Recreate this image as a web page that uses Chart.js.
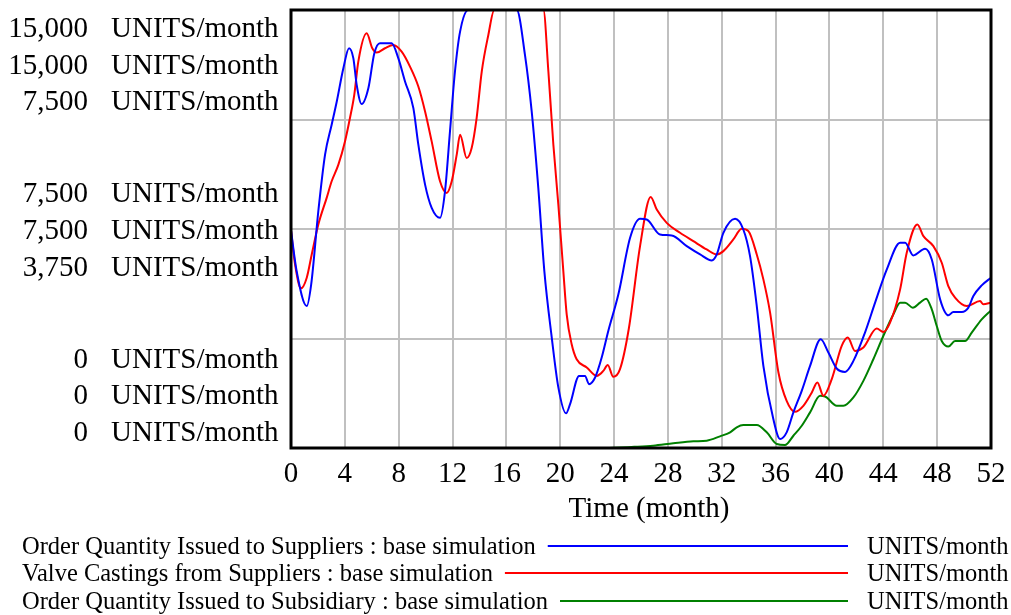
<!DOCTYPE html>
<html>
<head>
<meta charset="utf-8">
<script src="https://cdn.jsdelivr.net/npm/chart.js@4.4.0/dist/chart.umd.min.js"></script>
<style>
  html, body { margin: 0; padding: 0; background: #fff; }
  canvas { display: block; }
</style>
</head>
<body>
<canvas id="simChart" width="1011" height="615"></canvas>
<script>
// Time axis (months) and grid ticks
var monthTicks = [0, 4, 8, 12, 16, 20, 24, 28, 32, 36, 40, 44, 48, 52];
var unitTicks = [0, 3750, 7500, 11250, 15000];

// Scale tops for each series, in legend order (blue, red, green)
var seriesMax = [15000, 15000, 7500];
var seriesNames = [
  'Order Quantity Issued to Suppliers : base simulation',
  'Valve Castings from Suppliers : base simulation',
  'Order Quantity Issued to Subsidiary : base simulation'
];
var seriesUnits = 'UNITS/month';

// Order Quantity Issued to Suppliers
var supplierOrderMonths = [0, 0.42, 1.17, 1.5, 2.03, 2.53, 3.02, 3.4, 3.89, 4.31, 4.63, 4.88, 5.25, 5.75, 6.19, 6.61,
  7.48, 7.97, 8.47, 9.09, 9.46, 9.96, 10.45, 11.07, 11.44, 11.81, 12.18, 12.56, 13.17, 16.77, 17.38, 17.88,
  18.37, 18.82, 19.37, 19.86, 20.43, 20.73, 21.4, 21.84, 22.14, 22.59, 23.08, 23.57, 24.32, 25.19, 25.93,
  26.42, 27.41, 28.28, 29.4, 30.39, 31.26, 31.63, 32.12, 32.99, 33.6, 34.1, 34.6, 35.09, 35.83, 36.33, 36.82,
  37.32, 37.94, 38.56, 39.35, 39.92, 40.54, 41.16, 41.78, 42.64, 43.39, 44.26, 45.25, 45.62, 46.23, 47.1,
  47.6, 48.22, 48.83, 49.2, 49.83, 50.32, 50.69, 51.31, 52];
var supplierOrderValues = [7450, 6058, 4862, 5604, 8109, 10046, 11071, 11868, 13008, 13691, 13350, 12438, 11778, 12325, 13520, 13862,
  13862, 13350, 12552, 11641, 10387, 9021, 8224, 7883, 8792, 10842, 12893, 14260, 15000, 15000, 13462, 11526,
  8906, 6058, 3783, 2074, 1186, 1503, 2470, 2470, 2187, 2415, 3099, 4008, 5262, 7198, 7848,
  7825, 7312, 7278, 6913, 6629, 6424, 6629, 7370, 7848, 7483, 6571, 4862, 2812, 991, 308, 536,
  1220, 1958, 2812, 3725, 3270, 2723, 2607, 2983, 3953, 4978, 6116, 7029, 7029, 6595, 6823,
  6458, 5091, 4545, 4659, 4659, 4808, 5204, 5570, 5833];

// Valve Castings from Suppliers
var castingMonths = [0, 0.3, 0.74, 1.17, 1.54, 2.03, 2.65, 3.02, 3.52, 4.01, 4.38, 4.7, 5.0, 5.62, 6.04, 6.37, 6.98,
  7.6, 8.22, 8.84, 9.46, 9.96, 10.45, 11.07, 11.57, 11.94, 12.31, 12.56, 13.05, 13.42, 13.79, 14.17, 14.66,
  15.1, 18.75, 19.12, 19.49, 19.86, 20.23, 20.48, 20.85, 21.22, 21.97, 22.71, 23.2, 23.53, 23.94, 24.44,
  25.1, 25.93, 26.72, 27.17, 27.91, 28.9, 29.89, 30.88, 31.63, 32.12, 32.86, 33.48, 33.98, 34.6, 35.09,
  35.59, 36.21, 36.82, 37.44, 38.06, 38.69, 39.1, 39.55, 40.17, 40.91, 41.36, 41.9, 42.52, 43.51, 44.0,
  44.5, 45.25, 45.74, 46.53, 46.98, 47.72, 48.34, 48.83, 49.33, 50.2, 51.19, 51.43, 52];
var castingValues = [7450, 6287, 5467, 5833, 6629, 7654, 8566, 9134, 9704, 10500, 11300, 12096, 13234, 14204, 13691, 13542, 13691,
  13804, 13576, 13063, 12380, 11526, 10500, 9134, 8737, 9134, 10046, 10729, 9933, 10275, 11300, 12893, 14146,
  15000, 15000, 12893, 10387, 8337, 6058, 4579, 3554, 3041, 2757, 2470, 2641, 2846, 2436, 2699,
  4100, 6913, 8600, 8167, 7711, 7370, 7083, 6800, 6629, 6742, 7142, 7507, 7425, 6629, 5775,
  4637, 2587, 1616, 1240, 1445, 1903, 2245, 1787, 2358, 3496, 3783, 3325, 3441, 4090, 3974,
  4295, 5433, 6687, 7654, 7254, 6913, 6345, 5546, 5149, 4862, 5033, 4920, 4979];

// Order Quantity Issued to Subsidiary
var subsidiaryMonths = [0, 23.3, 25.5, 26.9, 28.4, 29.89, 30.88, 31.87, 32.62, 33.11, 33.6, 34.6, 35.34, 36.08, 36.7,
  37.32, 37.94, 38.56, 39.3, 39.67, 40.54, 41.03, 41.78, 42.52, 43.26, 44, 44.75, 45.25, 45.62, 46.19,
  46.73, 47.18, 47.6, 47.97, 48.34, 48.83, 49.33, 50.07, 50.57, 51.31, 52];
var subsidiaryValues = [0, 0, 20, 39, 80, 114, 125, 200, 268, 354, 393, 393, 268, 68, 51,
  210, 381, 610, 893, 883, 723, 723, 866, 1150, 1520, 1918, 2289, 2489, 2489, 2403,
  2489, 2557, 2374, 2089, 1833, 1737, 1833, 1833, 1976, 2203, 2357];

var FONT = "'Liberation Serif', 'Times New Roman', serif";

function toPoints(xs, ys) {
  return xs.map(function(x, i) { return { x: x, y: ys[i] }; });
}

function fmt(v) {
  return v.toLocaleString('en-US');
}

// y labels (three stacked scales), x title, legend, frame
var vensimDecor = {
  id: 'vensimDecor',
  afterDraw: function(chart) {
    var ctx = chart.ctx;
    var area = chart.chartArea;
    var y = chart.scales.y;
    var gap = 36.7;
    ctx.save();

    // frame
    ctx.strokeStyle = '#000';
    ctx.lineWidth = 3;
    ctx.strokeRect(area.left, area.top, area.right - area.left, area.bottom - area.top);

    // stacked axis labels
    ctx.fillStyle = '#000';
    ctx.font = '29px ' + FONT;
    ctx.textBaseline = 'alphabetic';
    var groups = [
      { frac: 1, first: y.getPixelForValue(15000) + 27 },
      { frac: 0.5, first: y.getPixelForValue(7500) - gap + 10 },
      { frac: 0, first: y.getPixelForValue(0) - 2 * gap - 7 }
    ];
    groups.forEach(function(g) {
      seriesMax.forEach(function(m, i) {
        var base = g.first + i * gap;
        ctx.textAlign = 'right';
        ctx.fillText(fmt(m * g.frac), 88, base);
        ctx.textAlign = 'left';
        ctx.fillText(seriesUnits, 111, base);
      });
    });

    // x title
    ctx.textAlign = 'center';
    ctx.fillText('Time (month)', 649, 517);

    // legend
    ctx.font = '24.5px ' + FONT;
    ctx.textAlign = 'left';
    var rowsY = [546, 573, 601];
    chart.data.datasets.forEach(function(ds, i) {
      var ty = rowsY[i];
      ctx.fillStyle = '#000';
      ctx.fillText(seriesNames[i], 22, ty + 8);
      ctx.fillText(seriesUnits, 867, ty + 8);
      var start = 22 + ctx.measureText(seriesNames[i]).width + 12;
      ctx.strokeStyle = ds.borderColor;
      ctx.lineWidth = 2;
      ctx.beginPath();
      ctx.moveTo(start, ty);
      ctx.lineTo(848, ty);
      ctx.stroke();
    });
    ctx.restore();
  }
};

var lineStyle = {
  borderWidth: 2,
  pointRadius: 0,
  fill: false,
  cubicInterpolationMode: 'monotone'
};

new Chart(document.getElementById('simChart').getContext('2d'), {
  type: 'line',
  data: {
    datasets: [
      Object.assign({ label: seriesNames[0], data: toPoints(supplierOrderMonths, supplierOrderValues), borderColor: '#0000ff', yAxisID: 'y' }, lineStyle),
      Object.assign({ label: seriesNames[1], data: toPoints(castingMonths, castingValues), borderColor: '#ff0000', yAxisID: 'y' }, lineStyle),
      Object.assign({ label: seriesNames[2], data: toPoints(subsidiaryMonths, subsidiaryValues), borderColor: '#008000', yAxisID: 'y2' }, lineStyle)
    ]
  },
  options: {
    responsive: false,
    devicePixelRatio: 1,
    animation: false,
    layout: { padding: { left: 291, right: 20, top: 10, bottom: 0 } },
    plugins: {
      legend: { display: false },
      tooltip: { enabled: false }
    },
    scales: {
      x: {
        type: 'linear',
        min: 0,
        max: 52,
        afterBuildTicks: function(s) { s.ticks = monthTicks.map(function(v) { return { value: v }; }); },
        afterFit: function(s) { s.height = 167; s.paddingLeft = 0; s.paddingRight = 0; },
        grid: { color: '#c0c0c0', lineWidth: 2, drawTicks: false },
        border: { display: false },
        ticks: {
          color: '#000',
          font: { family: FONT, size: 29 },
          padding: 9,
          maxRotation: 0,
          autoSkip: false
        }
      },
      y: {
        min: 0,
        max: seriesMax[0],
        afterBuildTicks: function(s) { s.ticks = unitTicks.map(function(v) { return { value: v }; }); },
        afterFit: function(s) { s.width = 0; s.paddingTop = 0; s.paddingBottom = 0; },
        grid: { color: '#c0c0c0', lineWidth: 2, drawTicks: false },
        border: { display: false },
        ticks: { display: false }
      },
      y2: {
        display: false,
        min: 0,
        max: seriesMax[2]
      }
    }
  },
  plugins: [vensimDecor]
});
</script>
</body>
</html>
